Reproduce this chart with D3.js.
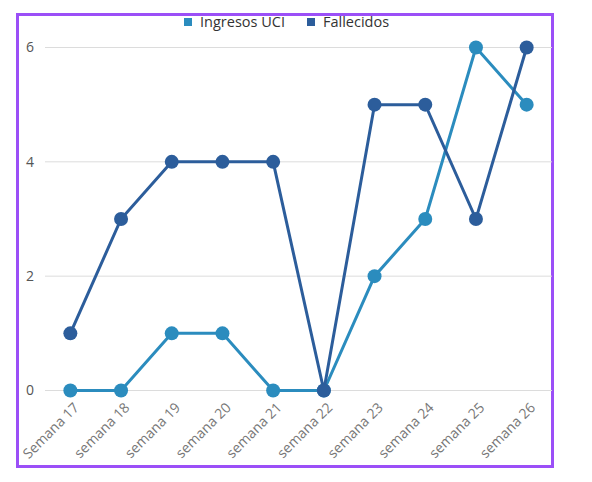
<!DOCTYPE html>
<html><head><meta charset="utf-8">
<script src="https://cdn.jsdelivr.net/npm/d3@7"></script>
<style>body{margin:0;background:#fff;}svg{display:block;font-family:"Open Sans",sans-serif;}</style>
</head><body><svg id="c" width="592" height="482"></svg>
<script>
const categories = ["Semana 17","semana 18","semana 19","semana 20","semana 21","semana 22","semana 23","semana 24","semana 25","semana 26"];
const ingresosUCI = [0,0,1,1,0,0,2,3,6,5];
const fallecidos = [1,3,4,4,4,0,5,5,3,6];
const yTicks = [0,2,4,6];
const seriesNames = ["Ingresos UCI","Fallecidos"];
const colors = ["#2b8cbe","#2c5d9b"];

const svg = d3.select("#c");
svg.append("rect").attr("x",17.5).attr("y",14.5).attr("width",535).attr("height",452)
  .attr("fill","none").attr("stroke","#9b4ff7").attr("stroke-width",3);

const x = d3.scaleBand().domain(categories).range([45,552]).padding(0);
const y = d3.scaleLinear().domain([0,6]).range([390.5,47.5]);
const cx = d => x(d) + x.bandwidth()/2;

svg.append("g").selectAll("line").data(yTicks).join("line")
  .attr("x1",45).attr("x2",552).attr("y1",d=>y(d)).attr("y2",d=>y(d))
  .attr("stroke","#dcdcdc").attr("stroke-width",1);
svg.append("g").selectAll("text").data(yTicks).join("text")
  .attr("x",34).attr("y",d=>y(d)).attr("dy","0.35em").attr("text-anchor","end")
  .attr("font-size",14).attr("fill","#555").text(d=>d);

svg.append("g").selectAll("text").data(categories).join("text")
  .attr("transform",d=>`translate(${cx(d)+6},${405}) rotate(-45)`)
  .attr("text-anchor","end").attr("dy","0.35em")
  .attr("font-size",14).attr("fill","#777").text(d=>d);

const data = [ingresosUCI, fallecidos];
const line = d3.line().x((d,i)=>cx(categories[i])).y(d=>y(d));
data.forEach((vals,k)=>{
  const g = svg.append("g");
  g.append("path").datum(vals).attr("d",line).attr("fill","none")
    .attr("stroke",colors[k]).attr("stroke-width",3);
  g.selectAll("circle").data(vals).join("circle")
    .attr("cx",(d,i)=>cx(categories[i])).attr("cy",d=>y(d)).attr("r",7)
    .attr("fill",colors[k]);
});

const leg = svg.append("g");
const legX = [184,307];
seriesNames.forEach((n,k)=>{
  leg.append("rect").attr("x",legX[k]).attr("y",18).attr("width",8).attr("height",8).attr("fill",colors[k]);
  leg.append("text").attr("x",legX[k]+16).attr("y",22).attr("dy","0.35em")
    .attr("font-size",14.5).attr("fill","#333").text(n);
});
</script></body></html>
